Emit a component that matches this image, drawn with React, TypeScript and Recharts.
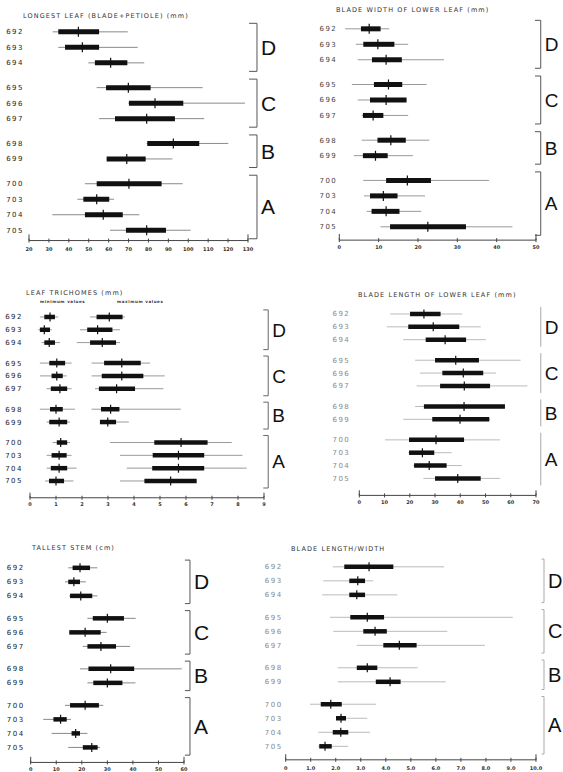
import React from 'react'
import { ScatterChart, Scatter, XAxis, YAxis, ErrorBar, ReferenceLine } from 'recharts'

const groupLetters = ['D', 'C', 'B', 'A']
const groupRows = [
  ['692', '693', '694'],
  ['695', '696', '697'],
  ['698', '699'],
  ['700', '703', '704', '705'],
]

// each row: [min, box from, mean, box to, max], in the order of groupRows
const longestLeaf = [
  [31.9, 34.7, 44.8, 55.2, 69.6],
  [34.7, 38.1, 46.8, 55.2, 74.6],
  [49.8, 53.1, 61.0, 69.4, 77.9],
  [54.0, 58.7, 69.9, 81.1, 107.2],
  [69.9, 70.2, 83.3, 97.5, 128.5],
  [55.2, 63.2, 79.1, 93.3, 108.0],
  [79.1, 79.4, 92.5, 105.5, 120.1],
  [59.0, 59.0, 69.1, 78.6, 92.0],
  [48.1, 54.0, 70.2, 86.6, 97.2],
  [44.3, 47.3, 54.0, 60.3, 62.7],
  [31.7, 48.1, 57.3, 67.1, 75.4],
  [60.7, 68.7, 79.1, 88.8, 101.2],
]

const bladeWidth = [
  [1.5, 5.5, 7.6, 10.5, 12.7],
  [4.2, 6.1, 9.8, 14.0, 17.5],
  [4.7, 8.3, 11.9, 15.9, 26.6],
  [3.2, 8.8, 12.5, 16.0, 22.2],
  [4.7, 7.8, 11.9, 17.1, 17.1],
  [5.7, 6.0, 8.6, 11.2, 17.5],
  [5.7, 9.7, 13.1, 16.9, 22.9],
  [3.7, 6.0, 9.2, 12.3, 18.7],
  [6.1, 11.9, 17.3, 23.3, 38.1],
  [6.3, 7.8, 11.2, 14.8, 21.8],
  [7.0, 8.2, 11.9, 15.3, 20.8],
  [10.5, 12.9, 22.5, 32.2, 44.0],
]

const trichomeMin = [
  [0.38, 0.55, 0.77, 0.96, 1.09],
  [0.32, 0.38, 0.55, 0.77, 0.84],
  [0.45, 0.55, 0.74, 0.96, 1.15],
  [0.38, 0.74, 1.03, 1.35, 1.6],
  [0.38, 0.83, 1.03, 1.26, 1.41],
  [0.64, 0.8, 1.15, 1.43, 1.6],
  [0.38, 0.77, 1.0, 1.26, 1.73],
  [0.64, 0.74, 1.12, 1.43, 1.54],
  [0.87, 1.03, 1.18, 1.43, 1.54],
  [0.64, 0.83, 1.12, 1.41, 1.6],
  [0.64, 0.8, 1.12, 1.43, 1.79],
  [0.58, 0.73, 1.0, 1.31, 1.67],
]

const trichomeMax = [
  [2.31, 2.56, 3.05, 3.56, 3.65],
  [1.92, 2.2, 2.6, 3.17, 3.46],
  [1.8, 2.31, 2.78, 3.31, 3.46],
  [2.37, 2.85, 3.53, 4.26, 4.62],
  [2.37, 2.76, 3.53, 4.36, 5.18],
  [2.5, 2.65, 3.33, 4.04, 5.13],
  [2.37, 2.73, 3.1, 3.44, 5.8],
  [2.69, 2.69, 2.99, 3.31, 3.8],
  [3.08, 4.78, 5.81, 6.83, 7.76],
  [3.46, 4.72, 5.71, 6.7, 8.17],
  [3.72, 4.7, 5.71, 6.7, 8.33],
  [3.46, 4.4, 5.41, 6.41, 6.41],
]

const bladeLength = [
  [12.2, 20.1, 25.6, 32.2, 40.8],
  [10.9, 19.4, 29.3, 39.6, 48.1],
  [17.4, 26.3, 34.0, 42.3, 50.1],
  [22.1, 30.0, 38.2, 47.4, 63.9],
  [24.0, 32.9, 41.2, 49.1, 54.2],
  [22.7, 32.0, 41.6, 51.8, 66.6],
  [22.1, 25.6, 41.5, 57.7, 57.7],
  [17.4, 28.9, 39.9, 51.5, 51.8],
  [10.2, 19.7, 30.4, 41.5, 55.7],
  [19.4, 19.7, 25.0, 29.7, 36.6],
  [21.4, 21.7, 27.7, 34.6, 40.6],
  [25.4, 30.0, 39.0, 48.1, 55.7],
]

const tallestStem = [
  [14.7, 16.4, 19.3, 23.2, 26.1],
  [13.4, 14.7, 16.9, 19.3, 21.6],
  [15.1, 15.4, 19.6, 24.1, 26.1],
  [22.2, 24.3, 30.0, 36.5, 41.1],
  [15.1, 15.1, 21.3, 27.4, 29.7],
  [20.4, 22.2, 27.5, 33.4, 38.9],
  [19.3, 22.6, 31.3, 40.5, 59.1],
  [22.2, 24.5, 30.0, 35.9, 41.0],
  [13.4, 15.4, 21.3, 26.7, 28.4],
  [4.9, 8.9, 11.7, 14.1, 15.8],
  [8.2, 16.0, 17.6, 19.3, 22.2],
  [14.7, 20.4, 23.9, 26.2, 27.1],
]

const lengthWidth = [
  [1.88, 2.34, 3.33, 4.3, 6.33],
  [1.5, 2.54, 2.88, 3.17, 3.5],
  [1.46, 2.54, 2.84, 3.17, 4.46],
  [1.77, 2.58, 3.26, 3.93, 9.07],
  [1.9, 3.1, 3.57, 4.04, 6.46],
  [2.84, 3.9, 4.54, 5.23, 7.96],
  [2.08, 2.84, 3.26, 3.66, 5.27],
  [2.08, 3.6, 4.17, 4.59, 6.39],
  [0.97, 1.4, 1.8, 2.24, 3.61],
  [2.01, 2.01, 2.21, 2.41, 3.26],
  [1.3, 1.88, 2.2, 2.5, 3.37],
  [1.3, 1.34, 1.57, 1.84, 2.5],
]

const leafTicks = [20, 30, 40, 50, 60, 70, 80, 90, 100, 110, 120, 130]
const widthTicks = [0, 10, 20, 30, 40, 50]
const trichomeTicks = [0, 1, 2, 3, 4, 5, 6, 7, 8, 9]
const lengthTicks = [0, 10, 20, 30, 40, 50, 60, 70]
const stemTicks = [0, 10, 20, 30, 40, 50, 60]
const ratioTicks = [0, 1, 2, 3, 4, 5, 6, 7, 8, 9, 10]

const GROUP_GAP = 0.6
const TOP_PAD = 0.7

const rows = groupRows.flatMap((ids, g) => ids.map((id) => ({ id, group: g })))
const positions = rows.map((r, i) => i + r.group * GROUP_GAP)
const lastPos = positions[positions.length - 1]

function idAt(v: number) {
  const i = positions.findIndex((q) => Math.abs(q - v) < 1e-6)
  return i >= 0 ? rows[i].id : ''
}

function toPoints(values: number[][]) {
  return values.map(([lo, from, mean, to, hi], i) => ({
    id: rows[i].id,
    pos: positions[i],
    mean,
    whisker: [mean - lo, hi - mean],
    box: [mean - from, to - mean],
  }))
}

interface PanelProps {
  title: string
  titleX: number
  titleY: number
  left: number
  x0: number
  x1: number
  y692: number
  y705: number
  axisY: number
  domain: [number, number]
  ticks: number[]
  fmt?: (v: number) => string
  series: number[][][]
  labelGap: number
  labelColor: string
  tickDrop: number
  whiskerColor: string
  boxThick: number
  markHalf: number
  bracketGap: number
  bracketTick: number
  bracketColor: string
  letterSize: number
}

const font = 'DejaVu Sans, sans-serif'

function Panel(p: PanelProps) {
  const unit = (p.y705 - p.y692) / lastPos
  const plotTop = p.y692 - TOP_PAD * unit
  const yMax = lastPos + (p.axisY - p.y705) / unit
  const plotH = p.axisY - plotTop
  const right = 34
  const [d0, d1] = p.domain
  const span = d1 - d0
  const bx = d1 + p.bracketGap * span
  const tick = p.bracketTick * span
  const bStroke = { stroke: p.bracketColor, strokeWidth: 1 }

  return (
    <>
      <div
        style={{
          position: 'absolute',
          left: p.titleX,
          top: p.titleY - 5,
          fontSize: 6.5,
          lineHeight: '10px',
          letterSpacing: 1.1,
          color: '#333',
          fontFamily: font,
          whiteSpace: 'nowrap',
        }}
      >
        {p.title}
      </div>
      <div style={{ position: 'absolute', left: p.left, top: plotTop }}>
        <ScatterChart width={p.x1 - p.left + right} height={plotH + 16} margin={{ top: 0, right, bottom: 0, left: 0 }}>
          <XAxis
            type="number"
            dataKey="mean"
            domain={p.domain}
            ticks={p.ticks}
            interval={0}
            allowDataOverflow
            height={16}
            tickFormatter={p.fmt}
            stroke="#444"
            tickSize={4}
            tickMargin={p.tickDrop}
            tickLine={{ transform: 'translate(0,-2)', stroke: '#444' }}
            tick={{ fontSize: 5, fill: '#333', fontWeight: 700, fontFamily: font }}
          />
          <YAxis
            type="number"
            dataKey="pos"
            domain={[-TOP_PAD, yMax]}
            reversed
            allowDataOverflow
            ticks={positions}
            interval={0}
            width={p.x0 - p.left}
            axisLine={false}
            tickLine={false}
            tickSize={0}
            tickMargin={p.labelGap}
            tickFormatter={(v: number) => idAt(v)}
            tick={{ fontSize: 7, fill: p.labelColor, letterSpacing: 1.5, fontFamily: font }}
          />
          <ReferenceLine
            segment={[{ x: d0, y: yMax }, { x: d0, y: yMax - 0.4 }]}
            stroke="#444"
            ifOverflow="visible"
          />
          <ReferenceLine
            segment={[{ x: d1, y: yMax }, { x: d1, y: yMax - 0.4 }]}
            stroke="#444"
            ifOverflow="visible"
          />
          {groupRows.map((ids, g) => {
            const first = positions[rows.findIndex((r) => r.group === g)]
            const top = first - 0.55
            const bottom = first + ids.length - 1 + 0.55
            return (
              <React.Fragment key={g}>
                <ReferenceLine
                  segment={[{ x: bx, y: top }, { x: bx, y: bottom }]}
                  {...bStroke}
                  ifOverflow="visible"
                  label={{
                    value: groupLetters[g],
                    position: 'right',
                    offset: 4,
                    fontSize: p.letterSize,
                    fill: '#111',
                    fontFamily: 'Liberation Sans, Arial, sans-serif',
                  }}
                />
                {tick > 0 && (
                  <ReferenceLine segment={[{ x: bx - tick, y: top }, { x: bx, y: top }]} {...bStroke} ifOverflow="visible" />
                )}
                {tick > 0 && (
                  <ReferenceLine segment={[{ x: bx - tick, y: bottom }, { x: bx, y: bottom }]} {...bStroke} ifOverflow="visible" />
                )}
              </React.Fragment>
            )
          })}
          {p.series.map((s, k) => (
            <Scatter
              key={k}
              data={toPoints(s)}
              isAnimationActive={false}
              shape={(sp: any) => (
                <line x1={sp.cx} x2={sp.cx} y1={sp.cy - p.markHalf} y2={sp.cy + p.markHalf} stroke="#111" strokeWidth={1.2} />
              )}
            >
              <ErrorBar dataKey="whisker" direction="x" width={0} stroke={p.whiskerColor} strokeWidth={1} isAnimationActive={false} />
              <ErrorBar dataKey="box" direction="x" width={0} stroke="#111" strokeWidth={p.boxThick} isAnimationActive={false} />
            </Scatter>
          ))}
        </ScatterChart>
      </div>
    </>
  )
}

const tinyNote = {
  position: 'absolute' as const,
  top: 299,
  fontSize: 4,
  fontWeight: 700,
  letterSpacing: 0.6,
  color: '#333',
  fontFamily: font,
  whiteSpace: 'nowrap' as const,
}

export default function App() {
  return (
    <div style={{ position: 'absolute', left: 0, top: 0, width: 563, height: 772, background: '#fff', overflow: 'hidden' }}>
      <Panel
        title="LONGEST LEAF (BLADE+PETIOLE) (mm)"
        titleX={23}
        titleY={15.7}
        left={0}
        x0={29}
        x1={248}
        y692={32.3}
        y705={230.7}
        axisY={241}
        domain={[20, 130]}
        ticks={leafTicks}
        series={[longestLeaf]}
        labelGap={5}
        labelColor="#222"
        tickDrop={3}
        whiskerColor="#8a8a8a"
        boxThick={5}
        markHalf={5}
        bracketGap={0.041}
        bracketTick={0.036}
        bracketColor="#555"
        letterSize={21}
      />
      <Panel
        title="BLADE WIDTH OF LOWER LEAF (mm)"
        titleX={336}
        titleY={10}
        left={300}
        x0={339.3}
        x1={536}
        y692={28.7}
        y705={226.7}
        axisY={240}
        domain={[0, 50]}
        ticks={widthTicks}
        series={[bladeWidth]}
        labelGap={2}
        labelColor="#444"
        tickDrop={1}
        whiskerColor="#999"
        boxThick={5}
        markHalf={5}
        bracketGap={0.024}
        bracketTick={0.029}
        bracketColor="#555"
        letterSize={19}
      />
      <Panel
        title="LEAF TRICHOMES (mm)"
        titleX={26}
        titleY={293.3}
        left={0}
        x0={30}
        x1={264}
        y692={316.7}
        y705={480.7}
        axisY={497.5}
        domain={[0, 9]}
        ticks={trichomeTicks}
        series={[trichomeMin, trichomeMax]}
        labelGap={7}
        labelColor="#222"
        tickDrop={1}
        whiskerColor="#9a9a9a"
        boxThick={4.5}
        markHalf={4.5}
        bracketGap={0.018}
        bracketTick={0.021}
        bracketColor="#666"
        letterSize={19}
      />
      <div style={{ ...tinyNote, left: 40 }}>minimum values</div>
      <div style={{ ...tinyNote, left: 117 }}>maximum values</div>
      <Panel
        title="BLADE LENGTH OF LOWER LEAF (mm)"
        titleX={358}
        titleY={295}
        left={310}
        x0={359.3}
        x1={536}
        y692={314.3}
        y705={478.7}
        axisY={495.7}
        domain={[0, 70]}
        ticks={lengthTicks}
        series={[bladeLength]}
        labelGap={9}
        labelColor="#888"
        tickDrop={1}
        whiskerColor="#bbb"
        boxThick={4.5}
        markHalf={4.5}
        bracketGap={0.027}
        bracketTick={0}
        bracketColor="#aaa"
        letterSize={19}
      />
      <Panel
        title="TALLEST STEM (cm)"
        titleX={32}
        titleY={548.3}
        left={0}
        x0={30.7}
        x1={184}
        y692={567.7}
        y705={747.3}
        axisY={762.3}
        domain={[0, 60]}
        ticks={stemTicks}
        series={[tallestStem]}
        labelGap={6}
        labelColor="#222"
        tickDrop={1}
        whiskerColor="#888"
        boxThick={4.5}
        markHalf={4.5}
        bracketGap={0.039}
        bracketTick={0.033}
        bracketColor="#555"
        letterSize={21}
      />
      <Panel
        title="BLADE LENGTH/WIDTH"
        titleX={291}
        titleY={549.3}
        left={240}
        x0={285.7}
        x1={536}
        y692={566.5}
        y705={746}
        axisY={759.5}
        domain={[0, 10]}
        ticks={ratioTicks}
        fmt={(v: number) => (v === 0 ? '0' : v.toFixed(1))}
        series={[lengthWidth]}
        labelGap={3}
        labelColor="#888"
        tickDrop={3}
        whiskerColor="#bbb"
        boxThick={4.5}
        markHalf={4.5}
        bracketGap={0.032}
        bracketTick={0.01}
        bracketColor="#aaa"
        letterSize={20}
      />
    </div>
  )
}
